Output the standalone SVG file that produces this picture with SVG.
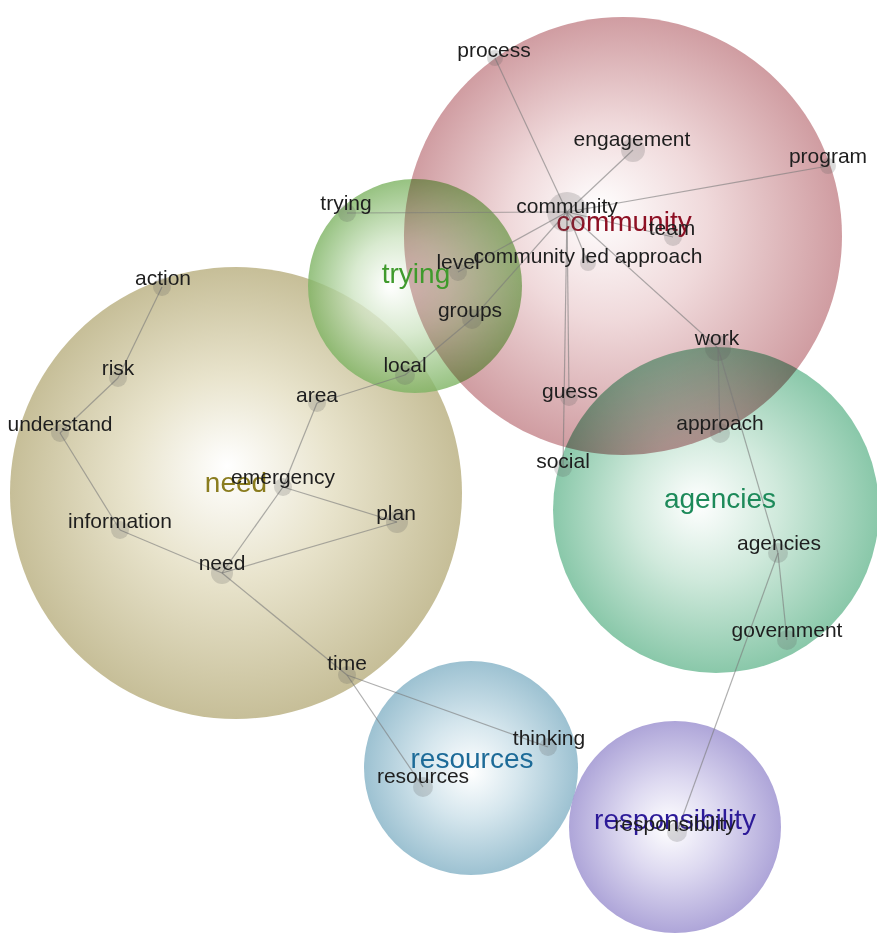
<svg xmlns="http://www.w3.org/2000/svg" width="877" height="933" viewBox="0 0 877 933">
  <style>
    .theme { opacity: 0.8; }
    .lens { mix-blend-mode: multiply; }
    .word { font-family: "Liberation Sans", Arial, sans-serif; font-size: 21px; fill: #1e1e1e; text-anchor: middle; }
    .tlabel { font-family: "Liberation Sans", Arial, sans-serif; font-size: 28px; text-anchor: middle; }
    .dot { fill: #5a5a5a; fill-opacity: 0.22; }
    .edge { stroke: #7a7a7a; stroke-opacity: 0.6; stroke-width: 1.2; fill: none; }
  </style>
  <defs>
    <radialGradient id="gCommunity" gradientUnits="userSpaceOnUse" cx="623" cy="236" r="219" fx="597" fy="210">
      <stop offset="0" stop-color="#ffffff"/>
      <stop offset="0.45" stop-color="#ecd0d2"/>
      <stop offset="1" stop-color="#c4848a"/>
    </radialGradient>
    <radialGradient id="gTrying" cx="0.5" cy="0.5" r="0.5" fx="0.38" fy="0.5">
      <stop offset="0" stop-color="#ffffff"/>
      <stop offset="0.45" stop-color="#cfe5c4"/>
      <stop offset="1" stop-color="#7db362"/>
    </radialGradient>
    <radialGradient id="gNeed" cx="0.5" cy="0.5" r="0.5" fx="0.48" fy="0.44">
      <stop offset="0" stop-color="#ffffff"/>
      <stop offset="0.45" stop-color="#e3ddc0"/>
      <stop offset="1" stop-color="#b8ae7e"/>
    </radialGradient>
    <radialGradient id="gAgencies" cx="0.5" cy="0.5" r="0.5" fx="0.44" fy="0.48">
      <stop offset="0" stop-color="#ffffff"/>
      <stop offset="0.45" stop-color="#c4e4d3"/>
      <stop offset="1" stop-color="#6cba94"/>
    </radialGradient>
    <radialGradient id="gResources" cx="0.5" cy="0.5" r="0.5" fx="0.5" fy="0.52">
      <stop offset="0" stop-color="#ffffff"/>
      <stop offset="0.45" stop-color="#cbe0e9"/>
      <stop offset="1" stop-color="#84b2c6"/>
    </radialGradient>
    <radialGradient id="gResponsibility" cx="0.5" cy="0.5" r="0.5" fx="0.47" fy="0.5">
      <stop offset="0" stop-color="#ffffff"/>
      <stop offset="0.45" stop-color="#d5d0ed"/>
      <stop offset="1" stop-color="#9a8fcf"/>
    </radialGradient>
  </defs>

  <rect width="877" height="933" fill="#ffffff"/>

  <!-- theme bubbles -->
  <g id="themes">
    <circle class="theme" cx="236" cy="493" r="226" fill="url(#gNeed)"/>
    <circle class="theme" cx="623" cy="236" r="219" fill="url(#gCommunity)"/>
    <circle class="theme" cx="415" cy="286" r="107" fill="url(#gTrying)"/>
    <circle class="theme" cx="716" cy="510" r="163" fill="url(#gAgencies)"/>
    <circle class="theme" cx="471" cy="768" r="107" fill="url(#gResources)"/>
    <circle class="theme" cx="675" cy="827" r="106" fill="url(#gResponsibility)"/>
  </g>

  <!-- darker shading where bubbles overlap "community" -->
  <path class="lens" d="M565.6,447.3 A219,219 0 0,0 797.2,368.7 A163,163 0 0,0 565.6,447.3 Z" fill="url(#gCommunity)" opacity="0.7"/>
  <path class="lens" d="M411.5,179 A107,107 0 0,1 460.5,382.8 A219,219 0 0,1 411.5,179 Z" fill="url(#gCommunity)" opacity="0.5"/>

  <!-- links between concepts -->
  <g id="connectors">
    <line class="edge" x1="567" y1="212" x2="495" y2="58"/>
    <line class="edge" x1="567" y1="212" x2="633" y2="150"/>
    <line class="edge" x1="567" y1="212" x2="828" y2="166"/>
    <line class="edge" x1="567" y1="212" x2="347" y2="213"/>
    <line class="edge" x1="567" y1="212" x2="673" y2="237"/>
    <line class="edge" x1="567" y1="212" x2="588" y2="263"/>
    <line class="edge" x1="567" y1="212" x2="458" y2="272"/>
    <line class="edge" x1="567" y1="212" x2="472" y2="319"/>
    <line class="edge" x1="567" y1="212" x2="569" y2="397"/>
    <line class="edge" x1="567" y1="212" x2="563" y2="468"/>
    <line class="edge" x1="567" y1="212" x2="718" y2="348"/>
    <line class="edge" x1="472" y1="319" x2="405" y2="375"/>
    <line class="edge" x1="405" y1="375" x2="317" y2="403"/>
    <line class="edge" x1="317" y1="403" x2="283" y2="487"/>
    <line class="edge" x1="283" y1="487" x2="222" y2="573"/>
    <line class="edge" x1="283" y1="487" x2="397" y2="522"/>
    <line class="edge" x1="397" y1="522" x2="222" y2="573"/>
    <line class="edge" x1="162" y1="287" x2="118" y2="378"/>
    <line class="edge" x1="118" y1="378" x2="60" y2="433"/>
    <line class="edge" x1="60" y1="433" x2="120" y2="530"/>
    <line class="edge" x1="120" y1="530" x2="222" y2="573"/>
    <line class="edge" x1="222" y1="573" x2="347" y2="675"/>
    <line class="edge" x1="347" y1="675" x2="423" y2="787"/>
    <line class="edge" x1="347" y1="675" x2="548" y2="747"/>
    <line class="edge" x1="718" y1="348" x2="720" y2="433"/>
    <line class="edge" x1="718" y1="348" x2="778" y2="553"/>
    <line class="edge" x1="778" y1="553" x2="787" y2="640"/>
    <line class="edge" x1="778" y1="553" x2="677" y2="832"/>
  </g>

  <!-- theme names -->
  <g id="theme-labels">
    <text class="tlabel" x="236" y="492" fill="#8a7c1e">need</text>
    <text class="tlabel" x="624" y="231" fill="#8e1024">community</text>
    <text class="tlabel" x="416" y="283" fill="#3f9a2c">trying</text>
    <text class="tlabel" x="720" y="508" fill="#1d8a5a">agencies</text>
    <text class="tlabel" x="472" y="768" fill="#1d6b98">resources</text>
    <text class="tlabel" x="675" y="829" fill="#2c1a98">responsibility</text>
  </g>

  <!-- concept nodes -->
  <g id="n-process"><circle class="dot" cx="495" cy="58" r="8"/><text class="word" x="494" y="57">process</text></g>
  <g id="n-engagement"><circle class="dot" cx="633" cy="150" r="12"/><text class="word" x="632" y="146">engagement</text></g>
  <g id="n-program"><circle class="dot" cx="828" cy="166" r="8"/><text class="word" x="828" y="163">program</text></g>
  <g id="n-community"><circle class="dot" cx="567" cy="212" r="20"/><text class="word" x="567" y="213">community</text></g>
  <g id="n-team"><circle class="dot" cx="673" cy="237" r="9"/><text class="word" x="672" y="235">team</text></g>
  <g id="n-community-led-approach"><circle class="dot" cx="588" cy="263" r="8"/><text class="word" x="588" y="263">community led approach</text></g>
  <g id="n-level"><circle class="dot" cx="458" cy="272" r="9"/><text class="word" x="458" y="269">level</text></g>
  <g id="n-trying"><circle class="dot" cx="347" cy="213" r="9"/><text class="word" x="346" y="210">trying</text></g>
  <g id="n-groups"><circle class="dot" cx="472" cy="319" r="10"/><text class="word" x="470" y="317">groups</text></g>
  <g id="n-local"><circle class="dot" cx="405" cy="375" r="10"/><text class="word" x="405" y="372">local</text></g>
  <g id="n-guess"><circle class="dot" cx="569" cy="397" r="9"/><text class="word" x="570" y="398">guess</text></g>
  <g id="n-social"><circle class="dot" cx="563" cy="468" r="9"/><text class="word" x="563" y="468">social</text></g>
  <g id="n-work"><circle class="dot" cx="718" cy="348" r="13"/><text class="word" x="717" y="345">work</text></g>
  <g id="n-approach"><circle class="dot" cx="720" cy="433" r="10"/><text class="word" x="720" y="430">approach</text></g>
  <g id="n-agencies"><circle class="dot" cx="778" cy="553" r="10"/><text class="word" x="779" y="550">agencies</text></g>
  <g id="n-government"><circle class="dot" cx="787" cy="640" r="10"/><text class="word" x="787" y="637">government</text></g>
  <g id="n-responsibility"><circle class="dot" cx="677" cy="832" r="10"/><text class="word" x="675" y="831">responsibility</text></g>
  <g id="n-action"><circle class="dot" cx="162" cy="287" r="9"/><text class="word" x="163" y="285">action</text></g>
  <g id="n-risk"><circle class="dot" cx="118" cy="378" r="9"/><text class="word" x="118" y="375">risk</text></g>
  <g id="n-understand"><circle class="dot" cx="60" cy="433" r="9"/><text class="word" x="60" y="431">understand</text></g>
  <g id="n-area"><circle class="dot" cx="317" cy="403" r="9"/><text class="word" x="317" y="402">area</text></g>
  <g id="n-emergency"><circle class="dot" cx="283" cy="487" r="9"/><text class="word" x="283" y="484">emergency</text></g>
  <g id="n-plan"><circle class="dot" cx="397" cy="522" r="11"/><text class="word" x="396" y="520">plan</text></g>
  <g id="n-information"><circle class="dot" cx="120" cy="530" r="9"/><text class="word" x="120" y="528">information</text></g>
  <g id="n-need"><circle class="dot" cx="222" cy="573" r="11"/><text class="word" x="222" y="570">need</text></g>
  <g id="n-time"><circle class="dot" cx="347" cy="675" r="9"/><text class="word" x="347" y="670">time</text></g>
  <g id="n-thinking"><circle class="dot" cx="548" cy="747" r="9"/><text class="word" x="549" y="745">thinking</text></g>
  <g id="n-resources"><circle class="dot" cx="423" cy="787" r="10"/><text class="word" x="423" y="783">resources</text></g>
</svg>
